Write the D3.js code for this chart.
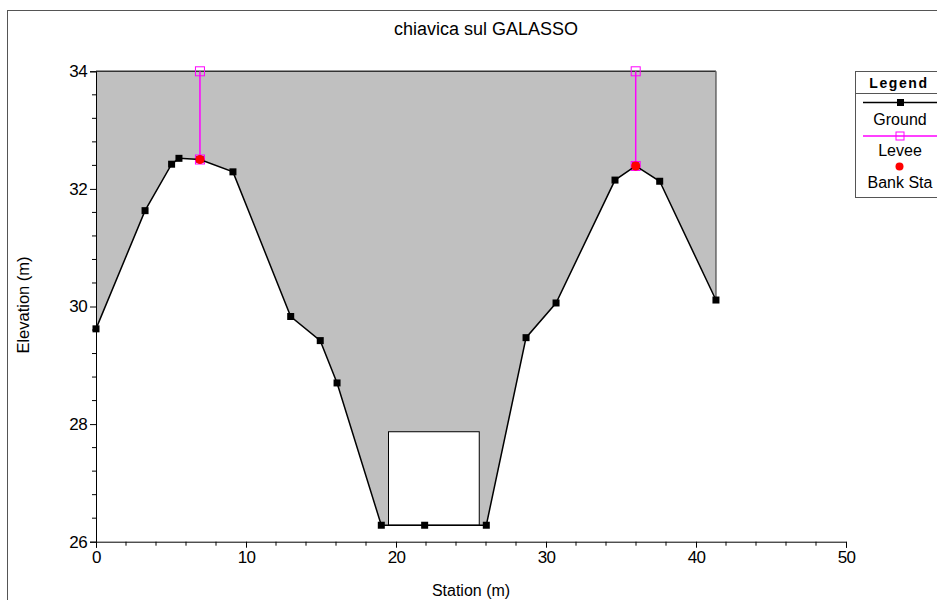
<!DOCTYPE html>
<html>
<head>
<meta charset="utf-8">
<script src="https://cdn.jsdelivr.net/npm/d3@7"></script>
<style>
  html, body { margin: 0; padding: 0; background: #fff; }
  svg { display: block; font-family: "Liberation Sans", Arial, sans-serif; }
</style>
</head>
<body>
<svg id="chart" width="937" height="600"></svg>
<script>
// Cross-section ground survey (station, elevation)
const groundStation = [0, 3.27, 5.04, 5.53, 6.93, 9.13, 12.98, 14.95, 16.07, 19.02, 21.91, 26.02, 28.67, 30.67, 34.6, 35.98, 37.58, 41.33];
const groundElev    = [29.62, 31.63, 32.42, 32.52, 32.5, 32.29, 29.83, 29.42, 28.7, 26.28, 26.28, 26.28, 29.47, 30.06, 32.15, 32.39, 32.13, 30.11];

// Levees: station, base elevation, crest elevation
const leveeStation = [6.93, 35.98];
const leveeBase    = [32.5, 32.39];
const leveeTop     = [34, 34];

// Bank stations
const bankStation = [6.93, 35.98];
const bankElev    = [32.5, 32.39];

// Roadway / embankment top and culvert opening
const deckElev = 34;
const culvertLeft = 19.5, culvertRight = 25.55, culvertInvert = 26.28, culvertTop = 27.87;

// Axes
const xTicks = [0, 10, 20, 30, 40, 50];
const yTicks = [26, 28, 30, 32, 34];
const legendItems = ["Ground", "Levee", "Bank Sta"];

const svg = d3.select("#chart");
const x = d3.scaleLinear().domain([0, 50]).range([96, 846]);
const y = d3.scaleLinear().domain([26, 34]).range([541.7, 71.3]);

// outer frame
svg.append("rect").attr("x", 7.5).attr("y", 10.5).attr("width", 940).attr("height", 600)
  .attr("fill", "none").attr("stroke", "#555").attr("stroke-width", 1);

// title
svg.append("text").attr("x", 486).attr("y", 35).attr("text-anchor", "middle")
  .attr("font-size", 18).attr("fill", "#000").text("chiavica sul GALASSO");

// embankment fill between ground and deck
const ground = groundStation.map((s, i) => [s, groundElev[i]]);
const last = groundStation[groundStation.length - 1];
const fillPts = [[0, deckElev], ...ground, [last, deckElev]];
svg.append("path")
  .attr("d", d3.line().x(d => x(d[0])).y(d => y(d[1]))(fillPts) + "Z")
  .attr("fill", "#c0c0c0").attr("stroke", "none");
// deck edge lines
svg.append("line").attr("x1", x(0)).attr("x2", x(last)).attr("y1", y(deckElev)).attr("y2", y(deckElev))
  .attr("stroke", "#333").attr("stroke-width", 1.5);
svg.append("line").attr("x1", x(last)).attr("x2", x(last)).attr("y1", y(deckElev)).attr("y2", y(groundElev[groundElev.length - 1]))
  .attr("stroke", "#666").attr("stroke-width", 1.5);

// culvert opening
svg.append("rect")
  .attr("x", x(culvertLeft)).attr("y", y(culvertTop))
  .attr("width", x(culvertRight) - x(culvertLeft)).attr("height", y(culvertInvert) - y(culvertTop))
  .attr("fill", "#fff").attr("stroke", "#000").attr("stroke-width", 1);

// axes
const tickFont = sel => sel.attr("font-size", 17).attr("letter-spacing", -0.6)
  .attr("font-family", "Liberation Sans, Arial, sans-serif").attr("fill", "#000");
const xAxis = d3.axisBottom(x).tickValues(xTicks).tickSize(6).tickPadding(3).tickFormat(d3.format("d"));
const gx = svg.append("g").attr("transform", `translate(0,${y(26)})`).call(xAxis);
gx.select(".domain").attr("stroke", "#000");
gx.selectAll("text").call(tickFont);
gx.selectAll(".tick line").attr("stroke", "#000");
const xMinor = d3.range(0, 50.01, 2).filter(v => v % 10 !== 0);
gx.selectAll(".minor").data(xMinor).enter().append("line")
  .attr("x1", d => x(d)).attr("x2", d => x(d)).attr("y1", 0).attr("y2", 4).attr("stroke", "#000");

const yAxis = d3.axisLeft(y).tickValues(yTicks).tickSize(6).tickPadding(3).tickFormat(d3.format("d"));
const gy = svg.append("g").attr("transform", `translate(${x(0)},0)`).call(yAxis);
gy.select(".domain").attr("stroke", "#000");
gy.selectAll("text").call(tickFont);
gy.selectAll(".tick line").attr("stroke", "#000");
const yMinor = d3.range(26, 34.001, 0.4).filter(v => Math.abs(v / 2 - Math.round(v / 2)) > 0.01);
gy.selectAll(".minor").data(yMinor).enter().append("line")
  .attr("x1", 0).attr("x2", -4).attr("y1", d => y(d)).attr("y2", d => y(d)).attr("stroke", "#000");

// axis titles
svg.append("text").attr("x", 471).attr("y", 596).attr("text-anchor", "middle")
  .attr("font-size", 16).text("Station (m)");
svg.append("text").attr("transform", "translate(29,305) rotate(-90)").attr("text-anchor", "middle")
  .attr("font-size", 16.5).text("Elevation (m)");

// levees
leveeStation.forEach((s, i) => {
  svg.append("line").attr("x1", x(s)).attr("x2", x(s)).attr("y1", y(leveeBase[i])).attr("y2", y(leveeTop[i]))
    .attr("stroke", "#ff00ff").attr("stroke-width", 1.5);
  [leveeBase[i], leveeTop[i]].forEach(e => {
    svg.append("rect").attr("x", x(s) - 4.5).attr("y", y(e) - 4.5).attr("width", 9).attr("height", 9)
      .attr("fill", "none").attr("stroke", "#ff00ff").attr("stroke-width", 1);
  });
});

// ground line and markers
svg.append("path")
  .attr("d", d3.line().x(d => x(d[0])).y(d => y(d[1]))(ground))
  .attr("fill", "none").attr("stroke", "#000").attr("stroke-width", 1.5);
svg.selectAll(".gpt").data(ground).enter().append("rect")
  .attr("x", d => x(d[0]) - 3.5).attr("y", d => y(d[1]) - 3.5).attr("width", 7).attr("height", 7).attr("fill", "#000");

// bank stations
svg.selectAll(".bank").data(bankStation).enter().append("circle")
  .attr("cx", d => x(d)).attr("cy", (d, i) => y(bankElev[i])).attr("r", 4.5).attr("fill", "#ff0000");

// legend
const lg = svg.append("g");
lg.append("rect").attr("x", 855.5).attr("y", 71.5).attr("width", 100).attr("height", 126)
  .attr("fill", "#fff").attr("stroke", "#555").attr("stroke-width", 1);
lg.append("line").attr("x1", 855.5).attr("x2", 955).attr("y1", 93.5).attr("y2", 93.5).attr("stroke", "#555");
lg.append("text").attr("x", 899).attr("y", 88).attr("text-anchor", "middle").attr("font-size", 14)
  .attr("font-weight", "bold").attr("letter-spacing", 1.6).text("Legend");
lg.append("line").attr("x1", 863).attr("x2", 940).attr("y1", 102.5).attr("y2", 102.5).attr("stroke", "#000").attr("stroke-width", 1.5);
lg.append("rect").attr("x", 897).attr("y", 99).attr("width", 7).attr("height", 7).attr("fill", "#000");
lg.append("line").attr("x1", 863).attr("x2", 940).attr("y1", 136).attr("y2", 136).attr("stroke", "#ff00ff").attr("stroke-width", 1.5);
lg.append("rect").attr("x", 896).attr("y", 132).attr("width", 8).attr("height", 8).attr("fill", "none").attr("stroke", "#ff00ff");
lg.append("circle").attr("cx", 899.5).attr("cy", 166.5).attr("r", 4).attr("fill", "#ff0000");
const labelY = [124.5, 156, 187.5];
legendItems.forEach((t, i) => {
  lg.append("text").attr("x", 900).attr("y", labelY[i]).attr("text-anchor", "middle").attr("font-size", 16).text(t);
});
</script>
</body>
</html>
